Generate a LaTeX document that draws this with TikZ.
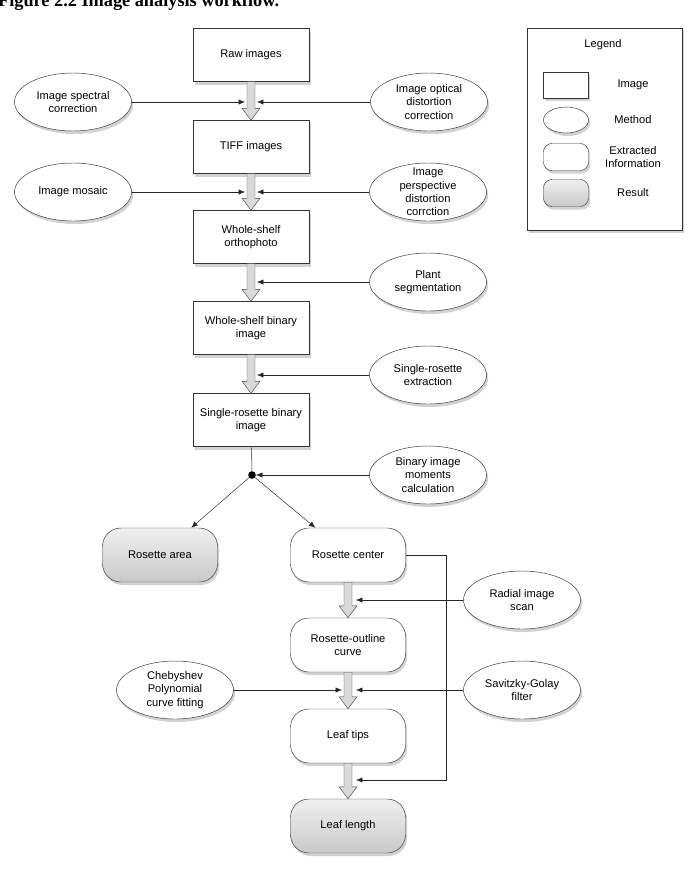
\documentclass[tikz,border=0pt]{standalone}
\usepackage{fontspec}
\setmainfont{Liberation Sans}
\newfontfamily\capfont{Liberation Serif}
\usetikzlibrary{shapes.geometric,arrows.meta,calc,shadows}

\begin{document}
\begin{tikzpicture}[x=0.03cm,y=-0.03cm,
  font=\fontsize{9.5}{11.5}\selectfont,
  sh/.style={drop shadow={shadow xshift=0.05cm,shadow yshift=-0.09cm,fill=black!35}},
  img/.style={draw=black!80,fill=white,sh,minimum width=3.48cm,minimum height=1.59cm,
              align=center,inner sep=2pt},
  mth/.style={draw=black!80,fill=white,sh,ellipse,minimum width=3.51cm,minimum height=1.74cm,
              align=center,inner xsep=0pt,inner ysep=-5pt},
  inf/.style={draw=black!80,fill=white,sh,rounded corners=0.55cm,minimum width=3.45cm,
              minimum height=1.62cm,align=center},
  res/.style={inf,top color=gray!12,bottom color=gray!42},
  a/.style={-{Latex[length=5.5pt,width=4.5pt]},black!85},
  fat/.style={draw=black!70,fill=gray!30,
    to path={($(\tikztostart)+(-4,0)$) -- ($(\tikztotarget)+(-4,-12)$)
      -- ($(\tikztotarget)+(-9,-12)$) -- (\tikztotarget) -- ($(\tikztotarget)+(9,-12)$)
      -- ($(\tikztotarget)+(4,-12)$) -- ($(\tikztostart)+(4,0)$) -- cycle}}
]
\useasboundingbox (0,0) rectangle (690,887);
\node[anchor=base west,font=\capfont\bfseries\fontsize{15.6}{18}\selectfont] (ttl) at (-6,6)
  {Figure 2.2 Image analysis workflow.};
% image boxes
\node[img] (raw) at (251,55)  {Raw images};
\node[img] (tif) at (251,147) {TIFF images};
\node[img] (orth) at (251,237) {Whole-shelf\\orthophoto};
\node[img] (wsb) at (251,328) {Whole-shelf binary\\image};
\node[img] (srb) at (251,420) {Single-rosette binary\\image};
% methods
\node[mth] (spec) at (73,102)  {Image spectral\\correction};
\node[mth] (opt) at (429,102)  {Image optical\\distortion\\correction};
\node[mth] (mos) at (73,192)   {Image mosaic};
\node[mth] (persp) at (428,192) {Image\\perspective\\distortion\\corrction};
\node[mth] (seg) at (428,282)  {Plant\\segmentation};
\node[mth] (ext) at (428,375)  {Single-rosette\\extraction};
\node[mth] (mom) at (428,475)  {Binary image\\moments\\calculation};
\node[mth] (rad) at (522,600)  {Radial image\\scan};
\node[mth] (cheb) at (175,690) {Chebyshev\\Polynomial\\curve fitting};
\node[mth] (sav) at (522,690)  {Savitzky-Golay\\filter};
% extracted information / results
\node[res] (area) at (160,555) {Rosette area};
\node[inf] (rc) at (348,555)   {Rosette center};
\node[inf] (outl) at (348,645) {Rosette-outline\\curve};
\node[inf] (tips) at (348,736) {Leaf tips};
\node[res] (len) at (348,826)  {Leaf length};
% junction and arrow ends
\node[circle,fill,inner sep=0pt,minimum size=6.5pt] (jn) at (252,475) {};
\coordinate (l1) at (245,102); \coordinate (r1) at (257,102);
\coordinate (l2) at (245,192); \coordinate (r2) at (257,192);
\coordinate (r3) at (257,282); \coordinate (r4) at (257,375);
\coordinate (r5) at (356,600);
\coordinate (l6) at (342,690); \coordinate (r6) at (356,690);
\coordinate (r7) at (356,780);
% flow
\draw[fat](raw.south) to (tif.north);\draw[fat](tif.south) to (orth.north);
\draw[fat](orth.south) to (wsb.north);\draw[fat](wsb.south) to (srb.north);
\draw[fat](rc.south) to (outl.north);\draw[fat](outl.south) to (tips.north);
\draw[fat](tips.south) to (len.north);
\draw[a](spec)--(l1);\draw[a](opt)--(r1);\draw[a](mos)--(l2);\draw[a](persp)--(r2);
\draw[a](seg)--(r3);\draw[a](ext)--(r4);\draw[a](rad)--(r5);
\draw[a](cheb)--(l6);\draw[a](sav)--(r6);
\draw[black!85](srb)--(jn);\draw[a](mom)--(jn);
\draw[a](jn)--(area);\draw[a](jn)--(rc);
\draw[a](rc.east)--++(40,0)|-(r7);
% legend
\node[draw=black!80,fill=white,sh,minimum width=4.65cm,minimum height=6.06cm] (lgd) at (604.5,129) {};
\node (lgdt) at (603,45) {Legend};
\node[img,minimum width=1.35cm,minimum height=0.78cm] (kimg) at (566,85) {};
\node[mth,minimum width=1.35cm,minimum height=0.78cm] (kmth) at (566,120) {};
\node[inf,minimum width=1.35cm,minimum height=0.81cm,rounded corners=0.25cm] (kinf) at (566,157) {};
\node[res,minimum width=1.35cm,minimum height=0.81cm,rounded corners=0.25cm] (kres) at (566,193) {};
\node (timg) at (633,85) {Image};
\node (tmth) at (633,120) {Method};
\node[align=center] (tinf) at (633,157) {Extracted\\Information};
\node (tres) at (633,193) {Result};
\end{tikzpicture}
\end{document}
